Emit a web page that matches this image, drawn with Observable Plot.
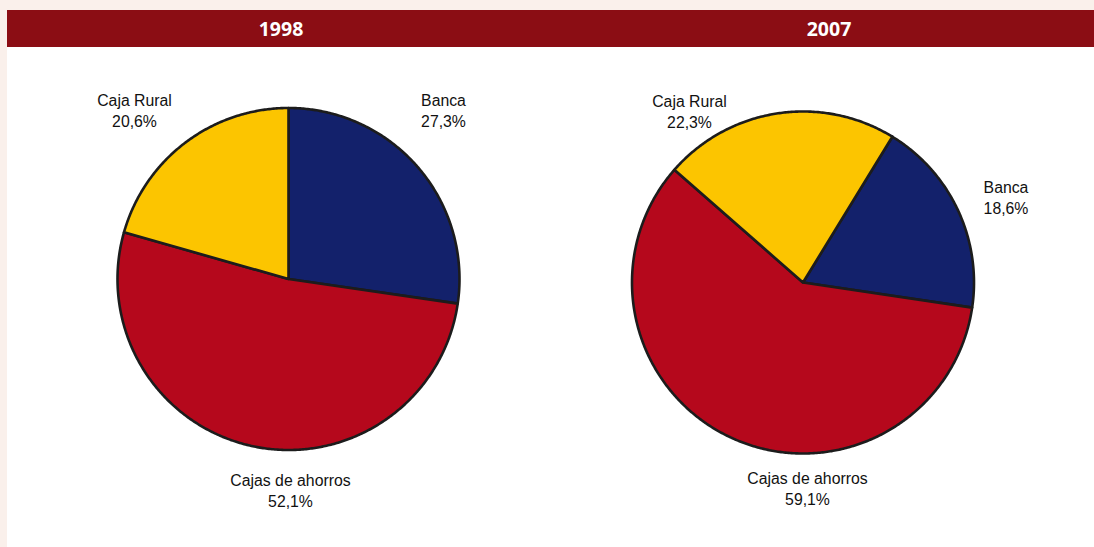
<!DOCTYPE html>
<html>
<head>
<meta charset="utf-8">
<script src="https://cdn.jsdelivr.net/npm/d3@7"></script>
<script src="https://cdn.jsdelivr.net/npm/@observablehq/plot@0.6"></script>
<style>
  html, body { margin: 0; padding: 0; background: #faf0eb; }
  #wrap { position: absolute; left: 7px; top: 10px; width: 1087px; height: 537px; background: #ffffff; }
  #bar { position: relative; height: 37px; background: #8b0d14; }
  .ttl { position: absolute; top: 0; line-height: 37px; transform: translateX(-50%);
         font-family: "Open Sans", sans-serif; font-weight: 700; font-size: 19.5px; color: #ffffff; }
  #chart svg { display: block; }
</style>
</head>
<body>
<div id="wrap">
  <div id="bar"></div>
  <div id="chart"></div>
</div>
<script>
// ---- data ----
const years = ["1998", "2007"];
const categories = ["Banca", "Cajas de ahorros", "Caja Rural"];
const values1998 = [27.3, 52.1, 20.6];
const values2007 = [18.6, 59.1, 22.3];
const colors = ["#13216b", "#b5081c", "#fcc500"];

// ---- layout (pixels within the SVG) ----
const W = 1087, H = 500, R = 171;
const centers = { "1998": [281, 231.5], "2007": [795.5, 235] };
const startDeg = { "1998": 0, "2007": 31.5 };
const titleX = { "1998": 274, "2007": 822 };
const labelOffsets = {
  "1998": { "Banca": [155, -169.5], "Cajas de ahorros": [2, 210.5], "Caja Rural": [-154, -169.5] },
  "2007": { "Banca": [203, -86], "Cajas de ahorros": [4.5, 205], "Caja Rural": [-113.5, -171.5] }
};

// titles
const bar = document.getElementById("bar");
for (const y of years) {
  const s = document.createElement("span");
  s.className = "ttl"; s.textContent = y; s.style.left = titleX[y] + "px";
  bar.appendChild(s);
}

const series = { "1998": values1998, "2007": values2007 };
const fmt = v => v.toFixed(1).replace(".", ",") + "%";

const slicePts = [];
const labels = [];
for (const y of years) {
  const vals = series[y];
  const [cx, cy] = centers[y];
  const a0 = startDeg[y] * Math.PI / 180;
  const arcs = d3.pie().sort(null).startAngle(a0).endAngle(a0 + 2 * Math.PI)(vals);
  arcs.forEach((a, i) => {
    const key = y + "-" + categories[i];
    slicePts.push({ key, cat: categories[i], x: cx, y: cy });
    const n = Math.max(2, Math.ceil((a.endAngle - a.startAngle) / (Math.PI / 360)));
    for (let k = 0; k <= n; k++) {
      const t = a.startAngle + (a.endAngle - a.startAngle) * k / n;
      slicePts.push({ key, cat: categories[i], x: cx + R * Math.sin(t), y: cy - R * Math.cos(t) });
    }
    const off = labelOffsets[y][categories[i]];
    labels.push({ x: cx + off[0], y: cy + off[1], text: categories[i] + "\n" + fmt(vals[i]) });
  });
}

const plot = Plot.plot({
  width: W, height: H,
  margin: 0,
  x: { domain: [0, W], range: [0, W], axis: null },
  y: { domain: [0, H], range: [0, H], axis: null },
  color: { domain: categories, range: colors },
  style: { background: "transparent", overflow: "visible" },
  marks: [
    Plot.line(slicePts, {
      x: "x", y: "y", z: "key", fill: "cat",
      stroke: "#1c1c1c", strokeWidth: 2.6, strokeLinejoin: "round",
      curve: "linear-closed"
    }),
    Plot.text(labels, {
      x: "x", y: "y", text: "text",
      fontFamily: "'Liberation Sans', Arial, sans-serif", fontSize: 15.8,
      lineHeight: 1.33, fill: "#111111"
    })
  ]
});
document.getElementById("chart").appendChild(plot);
</script>
</body>
</html>
